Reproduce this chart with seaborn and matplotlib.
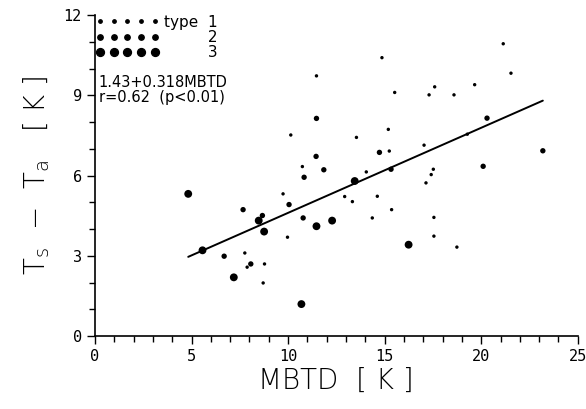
import numpy as np
import pandas as pd
import matplotlib
matplotlib.use('Agg')
import matplotlib.pyplot as plt
from matplotlib.lines import Line2D
from matplotlib.ticker import MultipleLocator
import seaborn as sns

# MBTD [K] and Ts - Ta [K], with the point type (1 small, 2 medium, 3 large)
mbtd = [10.14, 10.74, 9.74, 9.97, 7.76, 7.88, 8.78, 8.71, 21.14, 14.86, 21.54,
        15.52, 17.59, 17.30, 18.59, 19.66, 19.28, 13.54, 15.19, 15.24, 17.04,
        14.05, 17.52, 17.41, 17.14, 12.93, 14.62, 13.33, 14.36, 15.36, 17.55,
        17.55, 18.74, 11.47,
        11.45, 11.85, 10.83, 10.05, 7.67, 8.67, 10.78, 6.69, 8.07, 20.30, 14.73,
        15.33, 20.10, 23.19, 11.47,
        4.83, 8.48, 11.47, 12.28, 8.76, 5.57, 7.19, 10.69, 13.45, 16.24]
dt = [7.52, 6.34, 5.32, 3.70, 3.11, 2.58, 2.70, 1.99, 10.93, 10.41, 9.83,
      9.11, 9.32, 9.02, 9.02, 9.40, 7.55, 7.43, 7.73, 6.92, 7.14,
      6.14, 6.24, 6.04, 5.73, 5.22, 5.23, 5.03, 4.42, 4.73, 4.44,
      3.74, 3.33, 9.73,
      6.72, 6.22, 5.94, 4.92, 4.73, 4.51, 4.42, 2.99, 2.70, 8.15, 6.87,
      6.24, 6.35, 6.93, 8.14,
      5.32, 4.32, 4.11, 4.32, 3.91, 3.21, 2.20, 1.20, 5.80, 3.42]
ptype = [1] * 34 + [2] * 15 + [3] * 10

# regression line printed on the chart
fit_a = 1.43
fit_b = 0.318
fit_text = '1.43+0.318MBTD'
r_text = 'r=0.62  (p<0.01)'

df = pd.DataFrame({'mbtd': mbtd, 'dt': dt, 'type': ptype})

sns.set_style('ticks')
plt.rcParams['font.family'] = ['DejaVu Sans']
plt.rcParams['text.color'] = 'black'
plt.rcParams['axes.labelcolor'] = 'black'
plt.rcParams['xtick.color'] = 'black'
plt.rcParams['ytick.color'] = 'black'

fig = plt.figure(figsize=(5.86, 4.09), dpi=100)
ax = fig.add_axes([0.162, 0.178, 0.824, 0.785])

sizes = {1: 6, 2: 15, 3: 32}
sns.scatterplot(data=df, x='mbtd', y='dt', size='type', sizes=sizes,
                color='black', linewidth=0, legend=False, ax=ax)

xf = np.array([df['mbtd'].min(), df['mbtd'].max()])
ax.plot(xf, fit_a + fit_b * xf, color='black', lw=1.4)

ax.set_xlim(0, 25)
ax.set_ylim(0, 12)
ax.xaxis.set_major_locator(MultipleLocator(5))
ax.xaxis.set_minor_locator(MultipleLocator(1))
ax.yaxis.set_major_locator(MultipleLocator(3))
ax.yaxis.set_minor_locator(MultipleLocator(1))
ax.tick_params(which='major', length=6, width=1, color='black')
ax.tick_params(which='minor', length=4, width=1, color='black')
for lab in ax.get_xticklabels() + ax.get_yticklabels():
    lab.set_family('DejaVu Sans Mono')
    lab.set_fontsize(11)
sns.despine(ax=ax)
for sp in ax.spines.values():
    sp.set_color('black')
    sp.set_linewidth(1.2)

ax.set_xlabel('MBTD  [ K ]', fontsize=20, fontweight='light', labelpad=2)
ax.set_ylabel(r'T$_\mathregular{s}$  −  T$_\mathregular{a}$   [ K ]',
              fontsize=20, fontweight='light', labelpad=8)

handles = [Line2D([], [], ls='', marker='o', color='black',
                  markersize=np.sqrt(sizes[t])) for t in (1, 2, 3)]
ax.legend(handles, ['type  1', '         2', '         3'], numpoints=5,
          loc='upper left', bbox_to_anchor=(-0.018, 1.03), frameon=False,
          handlelength=4.2, handletextpad=0.3, labelspacing=0.02,
          fontsize=11, borderaxespad=0.2)

ax.text(0.008, 0.791, fit_text, transform=ax.transAxes, fontsize=10.5, va='center')
ax.text(0.008, 0.745, r_text, transform=ax.transAxes, fontsize=10.5, va='center')

fig.savefig('out.png', dpi=100)
